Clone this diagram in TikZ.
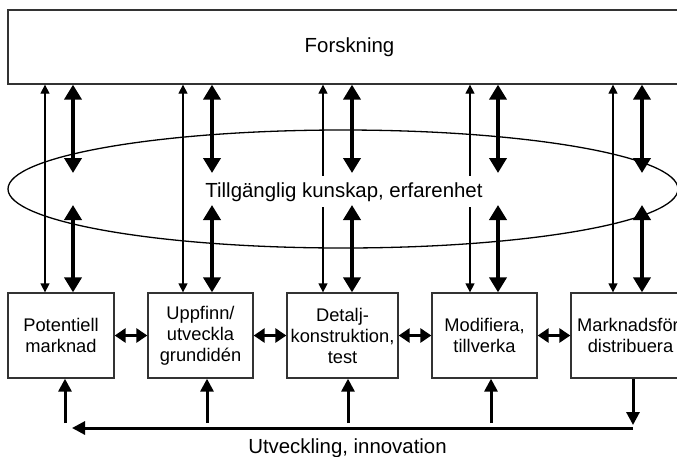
\documentclass[tikz,border=0pt]{standalone}
\usepackage{fontspec}
\setmainfont{Liberation Sans}
\usetikzlibrary{arrows.meta,shapes.geometric}
\begin{document}
\begin{tikzpicture}[x=1pt,y=-1pt,
  frame/.style={draw=black!80,line width=1.3pt,inner sep=0pt},
  box/.style={frame,minimum width=105pt,minimum height=85pt,align=center,font=\fontsize{18.3}{21}\selectfont},
  bigtext/.style={font=\fontsize{20.4}{24}\selectfont},
  thinarr/.style={line width=1.3pt,{Triangle[width=9pt,length=9pt]}-{Triangle[width=9pt,length=9pt]}},
  thickarr/.style={line width=4pt,{Triangle[width=17pt,length=15pt]}-{Triangle[width=17pt,length=15pt]}},
  linkarr/.style={line width=3pt,{Triangle[width=14pt,length=11pt]}-{Triangle[width=14pt,length=11pt]}},
  botarr/.style={line width=3pt,-{Triangle[width=13pt,length=13pt]}}]
\useasboundingbox (0,0) rectangle (677,456);
\clip (0,0) rectangle (677,456);
\fill[white] (0,0) rectangle (677,456);
% top box and ellipse
\node[frame,minimum width=683pt,minimum height=74pt,bigtext] (F) at (349.5,47) {Forskning};
\node[draw,ellipse,line width=1.3pt,minimum width=670pt,minimum height=118pt,inner sep=0pt] (E) at (343,189) {};
% bottom boxes
\node[box,minimum width=106pt] (b1) at (61,335.5) {Potentiell\\marknad};
\node[box] (b2) at (200.5,335.5) {Uppfinn/\\utveckla\\grundidén};
\node[box,minimum width=111pt] (b3) at (342.5,335.5) {Detalj-\\konstruktion,\\test};
\node[box] (b4) at (484.5,335.5) {Modifiera,\\tillverka};
\node[box,minimum width=119pt] (b5) at (630.5,335.5) {Marknadsför/\\distribuera};
% thin arrows
\foreach \i/\x in {1/45,2/183,3/323,4/470,5/613} {
  \coordinate (t\i) at (\x,0);
  \draw[thinarr] (F.south -| t\i) -- (b\i.north -| t\i);
}
% middle text
\node[bigtext,fill=white,inner xsep=3pt,inner ysep=6pt,anchor=base] (T) at (344,197) {Tillgänglig kunskap, erfarenhet};
% thick arrows
\foreach \i/\x in {1/73,2/212,3/352,4/498,5/642} {
  \coordinate (ka\i) at (\x,173);
  \coordinate (kb\i) at (\x,205);
  \draw[thickarr] (F.south -| ka\i) -- (ka\i);
  \draw[thickarr] (kb\i) -- (b\i.north -| kb\i);
}
% links between boxes
\draw[linkarr] (b1.east) -- (b2.west);
\draw[linkarr] (b2.east) -- (b3.west);
\draw[linkarr] (b3.east) -- (b4.west);
\draw[linkarr] (b4.east) -- (b5.west);
% bottom loop
\coordinate (uR) at (633,428);
\coordinate (uL) at (72,428);
\coordinate (dR) at (633,425);
\draw[botarr] (b5.south -| dR) -- (dR);
\draw[botarr] (uR) -- (uL);
\foreach \i/\x in {1/65,2/207,3/348,4/491} {
  \coordinate (s\i) at (\x,423);
  \draw[botarr] (s\i) -- (b\i.south -| s\i);
}
\node[bigtext,anchor=base] (U) at (347.5,453) {Utveckling, innovation};
\end{tikzpicture}
\end{document}
